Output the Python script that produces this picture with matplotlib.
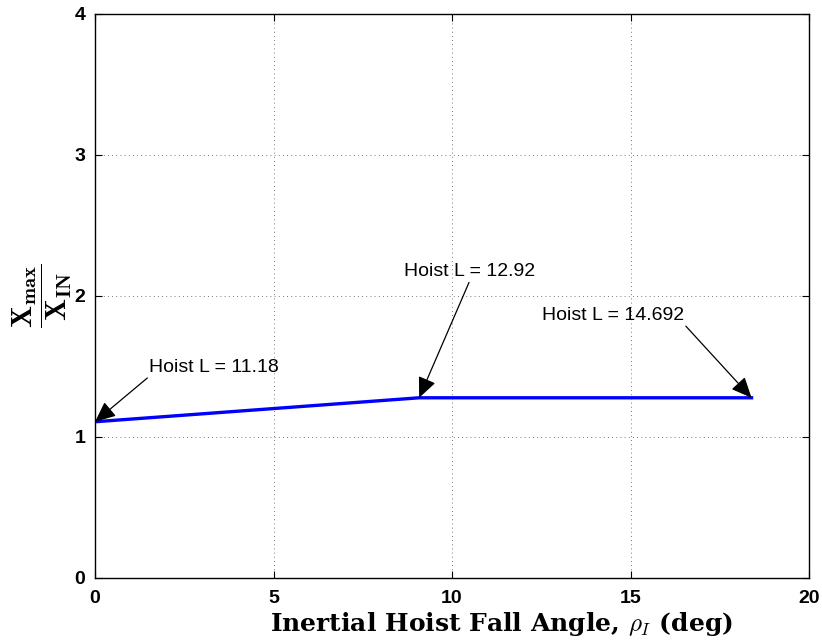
import matplotlib.pyplot as plt

plt.rcParams['mathtext.fontset'] = 'cm'
plt.rcParams['font.family'] = 'Liberation Sans'

# Polyline of X_max / X_IN against the fall angle
angle = [0.0, 9.08, 18.39]
ratio = [1.108, 1.278, 1.278]

# Annotations: label, arrow head point
labels = ['Hoist L = 11.18', 'Hoist L = 12.92', 'Hoist L = 14.692']
heads = [(0.0, 1.108), (9.08, 1.278), (18.39, 1.278)]
text_pos = [(1.52, 1.43), (10.5, 2.11), (16.5, 1.80)]
text_ha = ['left', 'center', 'right']
relpos = [(0, 0), (0.5, 0), (1, 0)]

fig = plt.figure(figsize=(8.22, 6.41), dpi=100)
ax = fig.add_axes([0.1156, 0.0983, 0.8686, 0.8799])

ax.plot(angle, ratio, color='#0000ff', lw=2.4)

for lab, hd, tp, ha, rp in zip(labels, heads, text_pos, text_ha, relpos):
    ax.annotate(lab, xy=hd, xytext=tp, ha=ha, va='bottom', fontsize=14,
                arrowprops=dict(arrowstyle='-|>,head_length=0.9,head_width=0.4',
                                color='black', lw=0.9, shrinkA=0, shrinkB=0,
                                relpos=rp),
                bbox=dict(boxstyle='square,pad=0.1', fc='none', ec='none'))

ax.set_xlim(0, 20)
ax.set_ylim(0, 4)
ax.set_xticks([0, 5, 10, 15, 20])
ax.set_yticks([0, 1, 2, 3, 4])
ax.tick_params(direction='in', top=True, right=True, labelsize=14, length=5, width=0.8)
ax.tick_params(axis='x', pad=9)
ax.tick_params(axis='y', pad=7)
for t in ax.get_xticklabels() + ax.get_yticklabels():
    t.set_fontweight('bold')
ax.grid(True, linestyle=(0, (1, 4)), color='black', lw=0.6, alpha=0.7)
for s in ax.spines.values():
    s.set_linewidth(1.0)

ax.set_xlabel(r'Inertial Hoist Fall Angle, $\rho_I$ (deg)',
              family='DejaVu Serif', fontweight='bold', fontsize=18)
ax.xaxis.set_label_coords(0.57, -0.057)
ax.set_ylabel(r'$\dfrac{\mathbf{X}_{\mathbf{max}}}{\mathbf{X}_{\mathbf{IN}}}$',
              fontsize=21, labelpad=0)

fig.savefig('out.png', dpi=100)
